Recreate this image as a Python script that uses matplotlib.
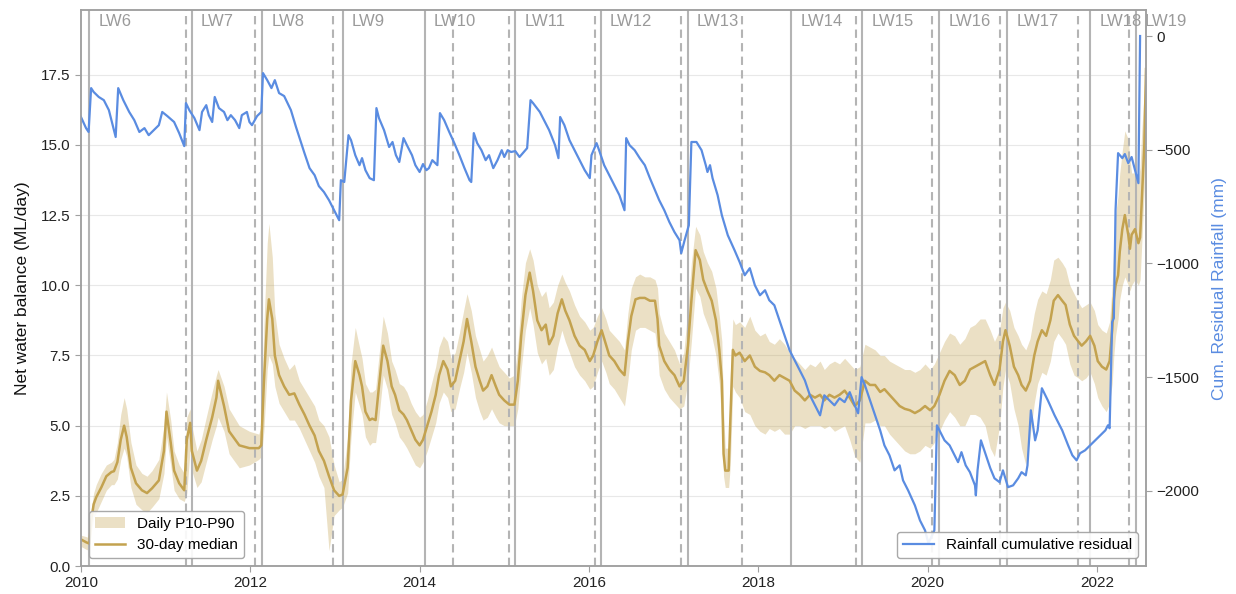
import matplotlib.pyplot as plt

plt.rcParams['font.family'] = ['Liberation Sans', 'DejaVu Sans']

# Longwall panels: extraction start / finish (decimal year), LW19 still running
lw_names = ['LW6', 'LW7', 'LW8', 'LW9', 'LW10', 'LW11', 'LW12',
            'LW13', 'LW14', 'LW15', 'LW16', 'LW17', 'LW18', 'LW19']
lw_start = [2010.10, 2011.31, 2012.14, 2013.09, 2014.06, 2015.13, 2016.14,
            2017.17, 2018.39, 2019.23, 2020.14, 2020.94, 2021.92, 2022.46]
lw_end = [2011.24, 2012.06, 2012.98, 2014.40, 2015.05, 2016.07, 2017.09,
          2017.81, 2019.15, 2020.05, 2020.85, 2021.78, 2022.38, None]

# Net water balance (ML/day): 30-day median and daily P10/P90 envelope
nwb_year = [
    2010.00, 2010.06, 2010.10, 2010.12, 2010.15, 2010.18, 2010.24, 2010.30, 2010.36, 2010.39,
    2010.43, 2010.47, 2010.51, 2010.54, 2010.59, 2010.65, 2010.72, 2010.78, 2010.84, 2010.92,
    2010.98, 2011.01, 2011.06, 2011.10, 2011.16, 2011.22, 2011.25, 2011.29, 2011.31, 2011.37,
    2011.42, 2011.48, 2011.55, 2011.60, 2011.62, 2011.69, 2011.75, 2011.87, 2011.99, 2012.10,
    2012.13, 2012.16, 2012.20, 2012.22, 2012.26, 2012.29, 2012.34, 2012.40, 2012.46, 2012.52,
    2012.58, 2012.64, 2012.70, 2012.76, 2012.81, 2012.87, 2012.93, 2012.99, 2013.05, 2013.09,
    2013.15, 2013.19, 2013.24, 2013.29, 2013.32, 2013.36, 2013.41, 2013.44, 2013.48, 2013.52,
    2013.57, 2013.62, 2013.67, 2013.71, 2013.76, 2013.81, 2013.85, 2013.90, 2013.95, 2014.00,
    2014.04, 2014.09, 2014.14, 2014.19, 2014.23, 2014.28, 2014.33, 2014.37, 2014.42, 2014.47,
    2014.52, 2014.56, 2014.61, 2014.66, 2014.71, 2014.75, 2014.80, 2014.85, 2014.90, 2014.94,
    2015.00, 2015.06, 2015.12, 2015.16, 2015.20, 2015.25, 2015.30, 2015.34, 2015.39, 2015.44,
    2015.49, 2015.53, 2015.58, 2015.63, 2015.68, 2015.72, 2015.77, 2015.83, 2015.89, 2015.95,
    2016.01, 2016.05, 2016.10, 2016.15, 2016.20, 2016.24, 2016.30, 2016.36, 2016.42, 2016.46,
    2016.50, 2016.55, 2016.60, 2016.66, 2016.72, 2016.78, 2016.81, 2016.83, 2016.89, 2016.95,
    2017.01, 2017.07, 2017.12, 2017.17, 2017.21, 2017.26, 2017.31, 2017.35, 2017.40, 2017.45,
    2017.50, 2017.54, 2017.57, 2017.59, 2017.61, 2017.65, 2017.67, 2017.70, 2017.73, 2017.78,
    2017.84, 2017.90, 2017.96, 2018.02, 2018.08, 2018.13, 2018.19, 2018.25, 2018.31, 2018.37,
    2018.43, 2018.49, 2018.55, 2018.61, 2018.67, 2018.73, 2018.78, 2018.84, 2018.90, 2018.96,
    2019.02, 2019.08, 2019.14, 2019.20, 2019.26, 2019.32, 2019.38, 2019.44, 2019.49, 2019.55,
    2019.61, 2019.67, 2019.73, 2019.79, 2019.85, 2019.91, 2019.97, 2020.03, 2020.08, 2020.14,
    2020.20, 2020.26, 2020.32, 2020.38, 2020.44, 2020.50, 2020.56, 2020.62, 2020.68, 2020.74,
    2020.79, 2020.85, 2020.89, 2020.92, 2020.97, 2021.02, 2021.07, 2021.11, 2021.16, 2021.21,
    2021.26, 2021.30, 2021.35, 2021.40, 2021.45, 2021.49, 2021.54, 2021.59, 2021.63, 2021.68,
    2021.73, 2021.78, 2021.82, 2021.87, 2021.92, 2021.97, 2022.01, 2022.06, 2022.11, 2022.15,
    2022.18, 2022.20, 2022.22, 2022.25, 2022.27, 2022.30, 2022.33, 2022.37, 2022.39, 2022.41,
    2022.45, 2022.49, 2022.51, 2022.53, 2022.56, 2022.58,
]
nwb_median = [
    0.95, 0.85, 0.80, 1.60, 2.20, 2.45, 2.80, 3.20, 3.35, 3.38,
    3.70, 4.50, 5.00, 4.60, 3.50, 2.95, 2.70, 2.60, 2.77, 3.05,
    4.10, 5.50, 4.40, 3.40, 2.95, 2.70, 4.50, 5.10, 4.10, 3.40,
    3.75, 4.50, 5.30, 6.00, 6.60, 5.70, 4.80, 4.30, 4.20, 4.20,
    4.30, 6.50, 8.80, 9.50, 8.80, 7.50, 6.80, 6.40, 6.10, 6.15,
    5.75, 5.40, 5.00, 4.65, 4.10, 3.75, 3.20, 2.70, 2.50, 2.55,
    3.50, 5.90, 7.30, 6.80, 6.40, 5.50, 5.20, 5.25, 5.20, 6.40,
    7.85, 7.30, 6.40, 6.10, 5.55, 5.40, 5.20, 4.85, 4.50, 4.30,
    4.50, 5.00, 5.50, 6.10, 6.80, 7.30, 7.00, 6.40, 6.60, 7.30,
    8.00, 8.80, 8.00, 7.10, 6.60, 6.25, 6.40, 6.80, 6.40, 6.10,
    5.90, 5.75, 5.75, 6.60, 8.20, 9.65, 10.45, 9.80, 8.75, 8.40,
    8.60, 7.90, 8.20, 9.00, 9.50, 9.10, 8.75, 8.20, 7.85, 7.70,
    7.30, 7.50, 8.00, 8.40, 7.90, 7.50, 7.30, 7.00, 6.80, 8.00,
    8.90, 9.50, 9.55, 9.55, 9.45, 9.45, 8.80, 7.85, 7.30, 7.00,
    6.80, 6.40, 6.60, 7.85, 9.45, 11.25, 10.90, 10.20, 9.80, 9.45,
    8.75, 7.70, 6.60, 4.00, 3.40, 3.40, 5.20, 7.70, 7.50, 7.60,
    7.30, 7.50, 7.10, 6.95, 6.90, 6.80, 6.60, 6.80, 6.70, 6.60,
    6.25, 6.10, 5.90, 6.10, 6.00, 6.10, 5.90, 6.10, 6.00, 6.10,
    6.25, 6.00, 5.70, 5.90, 6.60, 6.45, 6.45, 6.20, 6.30, 6.10,
    5.90, 5.70, 5.60, 5.55, 5.45, 5.55, 5.70, 5.55, 5.70, 6.10,
    6.60, 6.95, 6.80, 6.45, 6.60, 7.00, 7.10, 7.20, 7.30, 6.80,
    6.45, 7.00, 8.00, 8.40, 7.85, 7.10, 6.80, 6.45, 6.25, 6.60,
    7.50, 8.00, 8.40, 8.20, 8.75, 9.45, 9.65, 9.45, 9.30, 8.60,
    8.20, 8.00, 7.85, 8.00, 8.20, 7.85, 7.30, 7.10, 7.00, 7.30,
    8.40, 9.50, 10.00, 10.35, 11.20, 12.00, 12.50, 11.80, 11.30, 11.80,
    12.00, 11.50, 11.70, 13.00, 15.00, 17.70,
]
nwb_p10 = [
    0.70, 0.60, 0.55, 1.20, 1.70, 1.90, 2.30, 2.70, 2.90, 2.90,
    3.10, 3.80, 4.20, 3.90, 2.80, 2.20, 2.00, 1.90, 2.10, 2.40,
    3.30, 4.60, 3.60, 2.70, 2.40, 2.30, 2.60, 4.20, 3.40, 2.80,
    3.00, 3.70, 4.50, 5.00, 5.30, 4.80, 4.00, 3.50, 3.60, 3.80,
    3.90, 4.80, 7.00, 7.50, 7.20, 6.40, 5.80, 5.50, 5.20, 5.20,
    4.90, 4.50, 4.10, 3.70, 3.20, 2.80, 0.55, 1.80, 2.00, 2.10,
    2.60, 4.60, 6.20, 5.70, 5.40, 4.60, 4.30, 4.40, 4.40, 5.30,
    6.80, 6.30, 5.40, 5.10, 4.60, 4.40, 4.20, 3.90, 3.60, 3.50,
    3.70, 4.10, 4.60, 5.10, 5.80, 6.20, 6.00, 5.50, 5.60, 6.30,
    6.90, 7.60, 6.90, 6.00, 5.50, 5.20, 5.30, 5.60, 5.30, 5.10,
    5.00, 5.00, 5.00, 5.60, 7.00, 8.40, 9.20, 8.60, 7.60, 7.20,
    7.40, 6.80, 7.00, 7.80, 8.40, 8.00, 7.60, 7.10, 6.80, 6.60,
    6.30, 6.40, 6.90, 7.30, 6.90, 6.50, 6.30, 6.00, 5.70, 6.60,
    7.70, 8.40, 8.50, 8.50, 8.40, 8.30, 7.60, 6.80, 6.30, 6.00,
    5.80, 5.60, 5.70, 6.60, 8.00, 9.90, 9.60, 9.00, 8.60, 8.20,
    7.50, 6.50, 5.00, 3.20, 2.80, 2.80, 3.60, 6.40, 6.20, 6.00,
    5.50, 5.40, 5.00, 4.80, 4.70, 4.90, 4.80, 4.90, 4.70, 4.70,
    5.00, 5.00, 4.90, 5.00, 5.00, 5.00, 4.90, 5.00, 4.80, 4.90,
    5.00, 4.50, 3.90, 3.70, 5.10, 5.10, 5.20, 5.00, 5.00, 4.70,
    4.50, 4.30, 4.10, 4.00, 4.00, 4.10, 4.30, 4.20, 4.40, 4.80,
    5.20, 5.50, 5.30, 5.00, 5.00, 5.40, 5.40, 5.30, 5.00, 4.20,
    3.90, 5.00, 6.40, 7.00, 6.50, 5.60, 5.00, 4.20, 3.60, 4.60,
    5.80, 6.50, 6.90, 6.80, 7.30, 8.00, 8.30, 8.10, 7.90, 7.20,
    6.80, 6.70, 6.60, 6.70, 6.90, 6.50, 6.00, 5.70, 5.50, 5.80,
    6.50, 7.50, 8.20, 8.80, 9.50, 10.00, 10.30, 10.00, 9.80, 10.00,
    10.20, 10.00, 10.20, 11.50, 13.50, 16.50,
]
nwb_p90 = [
    1.10, 1.05, 1.00, 2.00, 2.60, 2.90, 3.30, 3.60, 3.70, 3.80,
    4.40, 5.40, 6.00, 5.60, 4.40, 3.60, 3.30, 3.20, 3.40, 3.80,
    5.00, 6.20, 5.20, 4.10, 3.60, 3.30, 5.30, 5.60, 5.00, 4.10,
    4.50, 5.30, 6.20, 6.80, 7.00, 6.40, 5.60, 5.00, 4.80, 4.70,
    5.00, 8.50, 11.50, 12.20, 11.00, 9.00, 7.90, 7.40, 7.00, 7.20,
    6.60, 6.30, 6.00, 5.70, 5.20, 5.00, 4.60, 3.60, 3.00, 3.10,
    4.60, 7.20, 8.50, 7.80, 7.40, 6.50, 6.20, 6.20, 6.30, 7.50,
    8.90, 8.30, 7.30, 7.00, 6.50, 6.40, 6.20, 5.80, 5.50, 5.30,
    5.40, 5.90, 6.50, 7.10, 7.80, 8.20, 8.00, 7.40, 7.60, 8.30,
    9.10, 9.70, 9.10, 8.20, 7.70, 7.30, 7.50, 7.80, 7.40, 7.10,
    6.90, 6.70, 6.80, 7.80, 9.50, 10.80, 11.30, 10.90, 10.00, 9.60,
    9.80, 9.20, 9.40, 10.00, 10.40, 10.10, 9.80, 9.30, 8.90, 8.70,
    8.40, 8.50, 8.90, 9.20, 8.80, 8.40, 8.20, 8.00, 7.70, 9.00,
    9.90, 10.30, 10.40, 10.30, 10.30, 10.20, 9.90, 9.00, 8.30, 8.00,
    7.70, 7.20, 7.60, 9.20, 10.80, 12.10, 11.80, 11.20, 10.80, 10.50,
    9.90, 8.90, 8.00, 5.50, 4.20, 4.20, 6.80, 8.80, 8.60, 8.70,
    8.50, 8.90, 8.40, 8.20, 8.30, 8.00, 7.90, 8.10, 7.90, 7.60,
    7.40, 7.20, 7.00, 7.20, 7.10, 7.30, 7.00, 7.20, 7.30, 7.20,
    7.40, 7.20, 7.00, 7.10, 7.90, 7.80, 7.70, 7.50, 7.50, 7.30,
    7.20, 7.10, 7.00, 7.00, 6.90, 7.00, 7.20, 7.00, 7.20, 7.60,
    8.00, 8.30, 8.20, 7.90, 8.10, 8.50, 8.60, 8.80, 8.80, 8.40,
    8.00, 8.40, 9.20, 9.40, 9.10, 8.50, 8.20, 7.90, 7.70, 8.10,
    9.00, 9.50, 9.80, 9.70, 10.20, 10.90, 11.00, 10.80, 10.60, 10.00,
    9.70, 9.40, 9.20, 9.30, 9.40, 9.10, 8.60, 8.40, 8.30, 8.70,
    10.00, 11.50, 12.50, 13.20, 14.00, 14.80, 15.50, 15.20, 14.50, 14.00,
    14.00, 13.80, 14.20, 15.50, 17.00, 18.50,
]

# Rainfall cumulative residual (mm)
rain_year = [
    2010.00, 2010.06, 2010.09, 2010.12, 2010.15, 2010.21, 2010.27, 2010.33, 2010.39, 2010.41,
    2010.44, 2010.50, 2010.57, 2010.63, 2010.69, 2010.75, 2010.80, 2010.86, 2010.92, 2010.96,
    2011.02, 2011.10, 2011.16, 2011.22, 2011.24, 2011.28, 2011.34, 2011.40, 2011.43, 2011.48,
    2011.51, 2011.55, 2011.58, 2011.63, 2011.69, 2011.73, 2011.77, 2011.82, 2011.87, 2011.90,
    2011.96, 2011.99, 2012.02, 2012.08, 2012.13, 2012.15, 2012.20, 2012.25, 2012.29, 2012.34,
    2012.40, 2012.44, 2012.48, 2012.54, 2012.64, 2012.70, 2012.76, 2012.81, 2012.87, 2012.93,
    2012.99, 2013.05, 2013.07, 2013.11, 2013.16, 2013.19, 2013.24, 2013.29, 2013.32, 2013.36,
    2013.41, 2013.46, 2013.49, 2013.52, 2013.58, 2013.64, 2013.68, 2013.72, 2013.76, 2013.81,
    2013.85, 2013.91, 2013.95, 2014.00, 2014.04, 2014.08, 2014.11, 2014.15, 2014.21, 2014.24,
    2014.29, 2014.35, 2014.41, 2014.47, 2014.53, 2014.59, 2014.61, 2014.64, 2014.68, 2014.73,
    2014.78, 2014.82, 2014.87, 2014.92, 2014.97, 2015.00, 2015.04, 2015.08, 2015.13, 2015.18,
    2015.23, 2015.27, 2015.31, 2015.34, 2015.42, 2015.47, 2015.53, 2015.60, 2015.64, 2015.66,
    2015.71, 2015.77, 2015.83, 2015.89, 2015.95, 2016.01, 2016.03, 2016.09, 2016.12, 2016.18,
    2016.24, 2016.30, 2016.36, 2016.42, 2016.44, 2016.48, 2016.54, 2016.60, 2016.66, 2016.72,
    2016.78, 2016.83, 2016.89, 2016.95, 2017.01, 2017.07, 2017.09, 2017.13, 2017.18, 2017.21,
    2017.27, 2017.33, 2017.38, 2017.40, 2017.43, 2017.46, 2017.52, 2017.57, 2017.64, 2017.72,
    2017.78, 2017.84, 2017.90, 2017.96, 2018.02, 2018.08, 2018.13, 2018.19, 2018.25, 2018.31,
    2018.37, 2018.43, 2018.49, 2018.55, 2018.61, 2018.67, 2018.73, 2018.78, 2018.84, 2018.90,
    2018.96, 2019.02, 2019.08, 2019.14, 2019.18, 2019.22, 2019.26, 2019.32, 2019.38, 2019.44,
    2019.49, 2019.55, 2019.61, 2019.67, 2019.71, 2019.77, 2019.85, 2019.91, 2019.97, 2020.01,
    2020.08, 2020.11, 2020.14, 2020.20, 2020.26, 2020.32, 2020.36, 2020.40, 2020.45, 2020.50,
    2020.56, 2020.57, 2020.59, 2020.63, 2020.69, 2020.74, 2020.79, 2020.85, 2020.89, 2020.95,
    2021.01, 2021.07, 2021.11, 2021.16, 2021.18, 2021.22, 2021.27, 2021.30, 2021.35, 2021.42,
    2021.50, 2021.59, 2021.66, 2021.71, 2021.76, 2021.80, 2021.86, 2021.92, 2021.98, 2022.04,
    2022.10, 2022.13, 2022.15, 2022.18, 2022.20, 2022.22, 2022.25, 2022.30, 2022.33, 2022.37,
    2022.41, 2022.45, 2022.49, 2022.51,
]
rain_resid = [
    -356, -405, -422, -229, -246, -268, -282, -326, -414, -444,
    -229, -282, -334, -370, -422, -405, -436, -414, -392, -334,
    -352, -378, -427, -484, -295, -326, -361, -414, -334, -304,
    -348, -378, -268, -317, -334, -370, -348, -370, -405, -348,
    -334, -378, -392, -352, -334, -163, -194, -229, -194, -251,
    -264, -295, -326, -400, -515, -581, -612, -660, -686, -722,
    -766, -810, -634, -642, -436, -458, -524, -568, -537, -590,
    -625, -634, -317, -361, -414, -488, -466, -524, -554, -449,
    -480, -524, -568, -598, -563, -590, -581, -546, -568, -339,
    -370, -422, -471, -524, -581, -634, -642, -427, -471, -502,
    -546, -524, -581, -546, -502, -532, -502, -510, -506, -532,
    -510, -493, -282, -295, -334, -370, -414, -480, -537, -356,
    -392, -458, -502, -546, -590, -625, -524, -471, -502, -568,
    -612, -656, -700, -766, -449, -480, -502, -537, -568, -625,
    -678, -722, -766, -818, -862, -898, -955, -898, -832, -466,
    -466, -502, -568, -598, -568, -625, -700, -788, -876, -942,
    -994, -1052, -1021, -1096, -1140, -1118, -1162, -1184, -1250, -1316,
    -1382, -1426, -1470, -1514, -1580, -1624, -1668, -1580, -1602, -1624,
    -1593, -1610, -1566, -1624, -1659, -1500, -1536, -1602, -1668, -1734,
    -1800, -1844, -1910, -1888, -1954, -1998, -2064, -2130, -2174, -2231,
    -2174, -1712, -1734, -1778, -1800, -1844, -1874, -1830, -1888, -1918,
    -1976, -2020, -1910, -1778, -1844, -1900, -1945, -1962, -1910, -1984,
    -1976, -1945, -1918, -1932, -1888, -1646, -1778, -1734, -1549, -1602,
    -1668, -1734, -1800, -1844, -1866, -1835, -1822, -1800, -1778, -1756,
    -1734, -1712, -1725, -1258, -1241, -766, -515, -537, -519, -559,
    -532, -590, -647, 0,
]

gold = '#c3a24f'
blue = '#5a8ce1'
frame_grey = '#a0a0a0'

fig, ax = plt.subplots(figsize=(12.36, 5.94), dpi=100)
fig.subplots_adjust(left=0.0655, right=0.9272, bottom=0.047, top=0.983)

# longwall start (solid) / finish (dashed) markers with panel names on top
for name, start, end in zip(lw_names, lw_start, lw_end):
    ax.axvline(start, color='#b4b4b4', lw=1.5, zorder=1.5)
    if end is not None:
        ax.axvline(end, color='#b4b4b4', lw=1.5, ls='--', dashes=(4, 2.5), zorder=1.5)
    ax.annotate(name, xy=(start, 1.0), xycoords=('data', 'axes fraction'),
                xytext=(6.5, -3), textcoords='offset points',
                ha='left', va='top', fontsize=12, color='#9a9a9a',
                annotation_clip=False)

ax.fill_between(nwb_year, nwb_p10, nwb_p90, color=gold, alpha=0.33, lw=0,
                label='Daily P10-P90', zorder=1)
ax.plot(nwb_year, nwb_median, color=gold, lw=1.8, label='30-day median', zorder=2)

ax.set_xlim(2010.0, 2022.58)
ax.set_ylim(0, 19.8)
ax.set_xticks(range(2010, 2023, 2))
ax.set_xticklabels([str(y) for y in range(2010, 2023, 2)])
ax.set_yticks([0, 2.5, 5, 7.5, 10, 12.5, 15, 17.5])
ax.set_yticklabels(['0.0', '2.5', '5.0', '7.5', '10.0', '12.5', '15.0', '17.5'])
ax.grid(axis='y', color='#e8e8e8', lw=0.8)
ax.set_axisbelow(True)
ax.set_ylabel('Net water balance (ML/day)', fontsize=12.5, color='#111111', labelpad=8)

ax2 = ax.twinx()
ax2.plot(rain_year, rain_resid, color=blue, lw=1.6, label='Rainfall cumulative residual')
ax2.set_ylim(-2331, 114)
ax2.set_yticks([0, -500, -1000, -1500, -2000])
ax2.set_ylabel('Cum. Residual Rainfall (mm)', fontsize=12.5, color=blue, labelpad=9)

for a in (ax, ax2):
    for sp in a.spines.values():
        sp.set_color(frame_grey)
        sp.set_linewidth(1.1)
    a.tick_params(length=4, width=0.8, color=frame_grey, labelsize=11, labelcolor='#222222')

leg1 = ax.legend(loc='lower left', fontsize=11, edgecolor=frame_grey, framealpha=0.9)
leg2 = ax2.legend(loc='lower right', fontsize=11, edgecolor=frame_grey, framealpha=0.9)

fig.savefig('out.png', dpi=100)
